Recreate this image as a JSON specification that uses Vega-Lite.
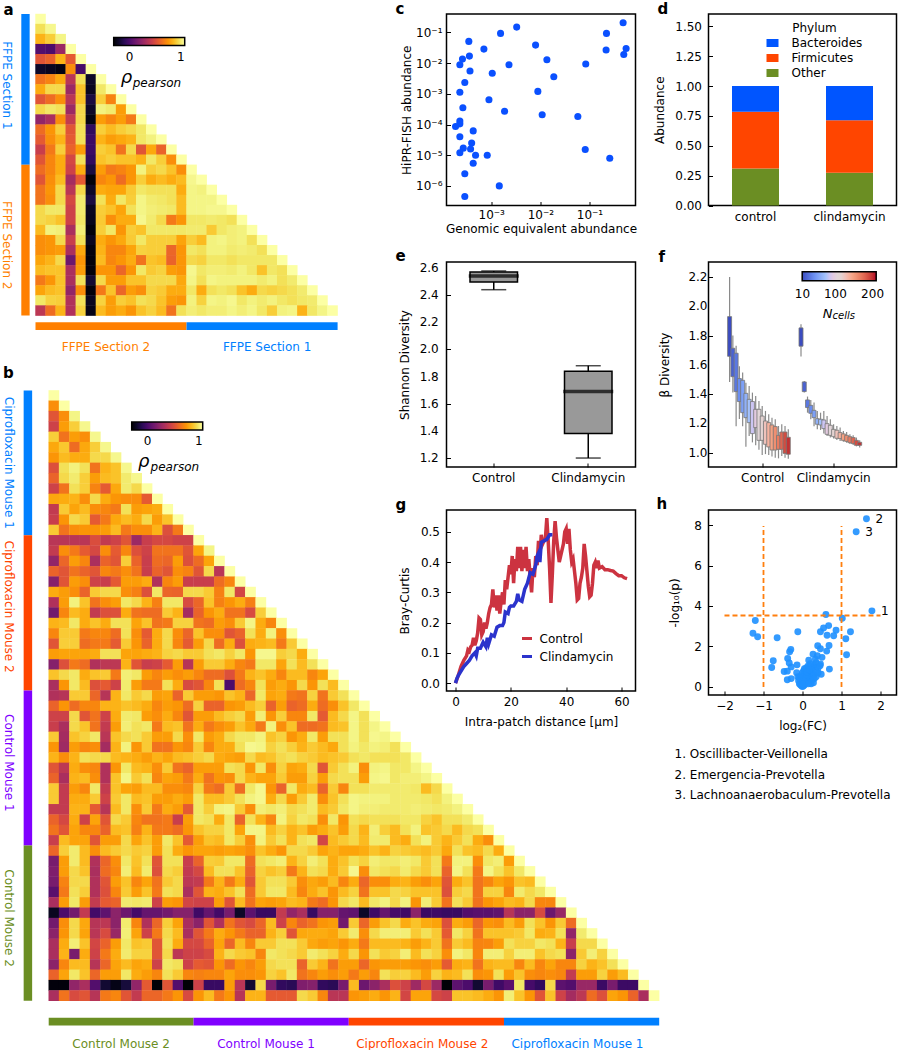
{
"$schema":"https://vega.github.io/schema/vega-lite/v6.json",
"padding":{"left":0.5,"top":1,"right":0,"bottom":0},
"background":"white",
"columns":3,
"bounds":"flush",
"spacing":{"row":0,"column":73},
"resolve":{"scale":{"fill":"independent","stroke":"independent","color":"independent"}},
"config":{"font":"DejaVu Sans","view":{"stroke":null},
"axis":{"grid":false,"domain":false,"tickSize":-4,"tickColor":"black","tickWidth":1,"labelFontSize":12,"titleFontSize":12,"labelColor":"black","titleColor":"black","titleFontWeight":"normal","labelPadding":11,"titlePadding":3,"labelOverlap":false},
"axisX":{"labelPadding":9.5},
"legend":{"labelFontSize":12,"titleFontSize":12,"titleFontWeight":"normal","labelColor":"black","titleColor":"black"},
"title":{"fontSize":15,"fontWeight":"bold","anchor":"start","frame":"group","color":"black"}},
"concat":[
{"width":337.4,"height":191.5,"title":{"text":"a","dx":-32,"offset":-4},
"resolve":{"scale":{"x":"independent","y":"independent","fill":"independent"}},
"layer":[
{"data":{"values":"r,c,v\n0,0,1\n1,0,.9\n1,1,.97\n2,0,.78\n2,1,.85\n2,2,.96\n3,0,.02\n3,1,0\n3,2,.25\n3,3,1\n4,0,.5\n4,1,.55\n4,2,.78\n4,3,.52\n4,4,1\n5,0,-.2\n5,1,-.22\n5,2,-.25\n5,3,.68\n5,4,-.02\n5,5,1\n6,0,.6\n6,1,.65\n6,2,.75\n6,3,.35\n6,4,.9\n6,5,-.2\n6,6,1\n7,0,.76\n7,1,.88\n7,2,.88\n7,3,.25\n7,4,.82\n7,5,-.22\n7,6,.92\n7,7,1\n8,0,.5\n8,1,.58\n8,2,.68\n8,3,.35\n8,4,.82\n8,5,-.15\n8,6,.85\n8,7,.65\n8,8,1\n9,0,.88\n9,1,.92\n9,2,.9\n9,3,.25\n9,4,.88\n9,5,-.2\n9,6,.95\n9,7,.93\n9,8,.72\n9,9,1\n10,0,.22\n10,1,.3\n10,2,.68\n10,3,.38\n10,4,.88\n10,5,-.25\n10,6,.72\n10,7,.66\n10,8,.72\n10,9,.62\n10,10,1\n11,0,.58\n11,1,.7\n11,2,.85\n11,3,.5\n11,4,.9\n11,5,-.08\n11,6,.85\n11,7,.8\n11,8,.85\n11,9,.88\n11,10,.92\n11,11,1\n12,0,.52\n12,1,.68\n12,2,.78\n12,3,.52\n12,4,.9\n12,5,-.05\n12,6,.78\n12,7,.72\n12,8,.75\n12,9,.78\n12,10,.92\n12,11,.95\n12,12,1\n13,0,.4\n13,1,.62\n13,2,.85\n13,3,.55\n13,4,.72\n13,5,-.05\n13,6,.85\n13,7,.82\n13,8,.6\n13,9,.88\n13,10,.5\n13,11,.75\n13,12,.55\n13,13,1\n14,0,.5\n14,1,.66\n14,2,.76\n14,3,.45\n14,4,.9\n14,5,-.08\n14,6,.82\n14,7,.85\n14,8,.82\n14,9,.82\n14,10,.78\n14,11,.92\n14,12,.85\n14,13,.68\n14,14,1\n15,0,.58\n15,1,.66\n15,2,.76\n15,3,.42\n15,4,.76\n15,5,-.15\n15,6,.72\n15,7,.62\n15,8,.65\n15,9,.7\n15,10,.95\n15,11,.85\n15,12,.88\n15,13,.82\n15,14,.68\n15,15,1\n16,0,.5\n16,1,.68\n16,2,.8\n16,3,.28\n16,4,.52\n16,5,-.27\n16,6,.66\n16,7,.7\n16,8,.58\n16,9,.7\n16,10,.85\n16,11,.76\n16,12,.8\n16,13,.76\n16,14,.8\n16,15,.97\n16,16,1\n17,0,.6\n17,1,.7\n17,2,.88\n17,3,.35\n17,4,.88\n17,5,-.2\n17,6,.76\n17,7,.74\n17,8,.74\n17,9,.84\n17,10,.92\n17,11,.9\n17,12,.9\n17,13,.9\n17,14,.76\n17,15,.96\n17,16,.95\n17,17,1\n18,0,.6\n18,1,.68\n18,2,.88\n18,3,.45\n18,4,.93\n18,5,-.15\n18,6,.9\n18,7,.76\n18,8,.92\n18,9,.85\n18,10,.96\n18,11,.93\n18,12,.92\n18,13,.9\n18,14,.8\n18,15,.96\n18,16,.96\n18,17,.96\n18,18,1\n19,0,.88\n19,1,.92\n19,2,.92\n19,3,.42\n19,4,.93\n19,5,-.22\n19,6,.85\n19,7,.82\n19,8,.74\n19,9,.9\n19,10,.96\n19,11,.94\n19,12,.93\n19,13,.92\n19,14,.8\n19,15,.96\n19,16,.96\n19,17,.97\n19,18,.97\n19,19,1\n20,0,.88\n20,1,.86\n20,2,.82\n20,3,.42\n20,4,.92\n20,5,-.23\n20,6,.84\n20,7,.68\n20,8,.76\n20,9,.76\n20,10,.97\n20,11,.93\n20,12,.88\n20,13,.62\n20,14,.7\n20,15,.92\n20,16,.92\n20,17,.93\n20,18,.92\n20,19,.9\n20,20,1\n21,0,.8\n21,1,.95\n21,2,.94\n21,3,.3\n21,4,.94\n21,5,-.27\n21,6,.85\n21,7,.92\n21,8,.7\n21,9,.85\n21,10,.82\n21,11,.92\n21,12,.92\n21,13,.92\n21,14,.92\n21,15,.93\n21,16,.93\n21,17,.84\n21,18,.92\n21,19,.94\n21,20,.95\n21,21,1\n22,0,.68\n22,1,.7\n22,2,.88\n22,3,.4\n22,4,.9\n22,5,-.22\n22,6,.76\n22,7,.7\n22,8,.75\n22,9,.84\n22,10,.92\n22,11,.85\n22,12,.85\n22,13,.85\n22,14,.74\n22,15,.85\n22,16,.8\n22,17,.95\n22,18,.96\n22,19,.94\n22,20,.95\n22,21,.9\n22,22,1\n23,0,.68\n23,1,.7\n23,2,.72\n23,3,.3\n23,4,.75\n23,5,-.26\n23,6,.78\n23,7,.66\n23,8,.66\n23,9,.74\n23,10,.86\n23,11,.85\n23,12,.85\n23,13,.56\n23,14,.7\n23,15,.92\n23,16,.9\n23,17,.95\n23,18,.95\n23,19,.93\n23,20,.94\n23,21,.93\n23,22,.9\n23,23,1\n24,0,.74\n24,1,.78\n24,2,.88\n24,3,.1\n24,4,.7\n24,5,-.27\n24,6,.8\n24,7,.66\n24,8,.7\n24,9,.76\n24,10,.6\n24,11,.82\n24,12,.8\n24,13,.55\n24,14,.7\n24,15,.88\n24,16,.86\n24,17,.92\n24,18,.92\n24,19,.9\n24,20,.92\n24,21,.92\n24,22,.92\n24,23,.92\n24,24,1\n25,0,.8\n25,1,.82\n25,2,.82\n25,3,.3\n25,4,.72\n25,5,-.27\n25,6,.7\n25,7,.7\n25,8,.56\n25,9,.7\n25,10,.92\n25,11,.84\n25,12,.86\n25,13,.72\n25,14,.7\n25,15,.97\n25,16,.92\n25,17,.94\n25,18,.94\n25,19,.93\n25,20,.95\n25,21,.92\n25,22,.82\n25,23,.92\n25,24,.9\n25,25,1\n26,0,.62\n26,1,.7\n26,2,.82\n26,3,.3\n26,4,.9\n26,5,-.18\n26,6,.88\n26,7,.72\n26,8,.72\n26,9,.82\n26,10,.82\n26,11,.88\n26,12,.88\n26,13,.88\n26,14,.75\n26,15,.96\n26,16,.9\n26,17,.96\n26,18,.95\n26,19,.95\n26,20,.95\n26,21,.95\n26,22,.93\n26,23,.95\n26,24,.9\n26,25,.93\n26,26,1\n27,0,.74\n27,1,.8\n27,2,.82\n27,3,.22\n27,4,.68\n27,5,-.27\n27,6,.62\n27,7,.82\n27,8,.56\n27,9,.72\n27,10,.68\n27,11,.86\n27,12,.84\n27,13,.76\n27,14,.76\n27,15,.92\n27,16,.76\n27,17,.9\n27,18,.92\n27,19,.9\n27,20,.82\n27,21,.76\n27,22,.88\n27,23,.86\n27,24,.88\n27,25,.9\n27,26,.93\n27,27,1\n28,0,.92\n28,1,.86\n28,2,.85\n28,3,.32\n28,4,.9\n28,5,-.22\n28,6,.86\n28,7,.72\n28,8,.85\n28,9,.82\n28,10,.9\n28,11,.88\n28,12,.82\n28,13,.72\n28,14,.7\n28,15,.95\n28,16,.86\n28,17,.96\n28,18,.95\n28,19,.97\n28,20,.92\n28,21,.95\n28,22,.93\n28,23,.95\n28,24,.92\n28,25,.9\n28,26,.92\n28,27,.93\n28,28,1\n29,0,.36\n29,1,.58\n29,2,.78\n29,3,.32\n29,4,.86\n29,5,-.24\n29,6,.8\n29,7,.72\n29,8,.76\n29,9,.7\n29,10,.82\n29,11,.86\n29,12,.8\n29,13,.6\n29,14,.9\n29,15,.94\n29,16,.92\n29,17,.94\n29,18,.94\n29,19,.96\n29,20,.94\n29,21,.96\n29,22,.92\n29,23,.85\n29,24,.95\n29,25,.96\n29,26,.78\n29,27,.92\n29,28,.96\n29,29,1","format":{"type":"csv","parse":{"r":"number","c":"number","v":"number"}}},
"mark":{"type":"rect","width":10.5,"height":10.5},
"encoding":{
"x":{"field":"c","type":"ordinal","axis":null,"scale":{"type":"band","paddingInner":0,"paddingOuter":0,"range":[0,302.1]}},
"y":{"field":"r","type":"ordinal","axis":null,"scale":{"type":"band","paddingInner":0,"paddingOuter":0,"range":[0,301.6]}},
"fill":{"field":"v","type":"quantitative","scale":{"scheme":"inferno","domain":[-0.29,1]},"legend":{"type":"gradient","orient":"none","legendX":78.2,"legendY":23.5,"direction":"horizontal","gradientLength":71,"gradientThickness":8,"values":[0,1],"title":null,"labelOffset":6,"format":"d","gradientStrokeColor":"black","gradientStrokeWidth":1.5}}}},
{"data":{"values":[{"g":"FFPE Section 1","x0":-1.41,"x1":-0.58,"y0":0,"y1":15},{"g":"FFPE Section 2","x0":-1.41,"x1":-0.58,"y0":15,"y1":30},{"g":"FFPE Section 2","x0":0,"x1":15,"y0":30.67,"y1":31.43},{"g":"FFPE Section 1","x0":15,"x1":30,"y0":30.67,"y1":31.43}]},
"mark":"rect",
"encoding":{
"x":{"field":"x0","type":"quantitative","axis":null,"scale":{"domain":[0,30],"range":[0,302.1],"nice":false,"zero":false}},"x2":{"field":"x1"},
"y":{"field":"y0","type":"quantitative","axis":null,"scale":{"domain":[0,30],"range":[0,301.6],"nice":false,"zero":false}},"y2":{"field":"y1"},
"fill":{"field":"g","type":"nominal","legend":null,"scale":{"domain":["FFPE Section 1","FFPE Section 2"],"range":["#0080FF","#FF7F00"]}}}},
{"data":{"values":[{"g":"FFPE Section 1","x":-2.83,"y":7.1},{"g":"FFPE Section 2","x":-2.83,"y":23}]},
"mark":{"type":"text","angle":90,"fontSize":12,"align":"center","baseline":"middle"},
"encoding":{
"x":{"field":"x","type":"quantitative","axis":null,"scale":{"domain":[0,30],"range":[0,302.1],"nice":false,"zero":false}},
"y":{"field":"y","type":"quantitative","axis":null,"scale":{"domain":[0,30],"range":[0,301.6],"nice":false,"zero":false}},
"text":{"field":"g"},
"fill":{"field":"g","type":"nominal","legend":null,"scale":{"domain":["FFPE Section 1","FFPE Section 2"],"range":["#0080FF","#FF7F00"]}}}},
{"data":{"values":[{"g":"FFPE Section 2","x":7,"y":33.1},{"g":"FFPE Section 1","x":23,"y":33.1}]},
"mark":{"type":"text","fontSize":12,"align":"center","baseline":"middle"},
"encoding":{
"x":{"field":"x","type":"quantitative","axis":null,"scale":{"domain":[0,30],"range":[0,302.1],"nice":false,"zero":false}},
"y":{"field":"y","type":"quantitative","axis":null,"scale":{"domain":[0,30],"range":[0,301.6],"nice":false,"zero":false}},
"text":{"field":"g"},
"fill":{"field":"g","type":"nominal","legend":null,"scale":{"domain":["FFPE Section 1","FFPE Section 2"],"range":["#0080FF","#FF7F00"]}}}},
{"data":{"values":[{"t":"ρ","x":8.46,"y":6.4}]},
"mark":{"type":"text","fontSize":18,"fontStyle":"italic","align":"left","baseline":"middle","color":"black"},
"encoding":{
"x":{"field":"x","type":"quantitative","axis":null,"scale":{"domain":[0,30],"range":[0,302.1],"nice":false,"zero":false}},
"y":{"field":"y","type":"quantitative","axis":null,"scale":{"domain":[0,30],"range":[0,301.6],"nice":false,"zero":false}},
"text":{"field":"t"}}},
{"data":{"values":[{"t":"pearson","x":9.65,"y":6.9}]},
"mark":{"type":"text","fontSize":12,"fontStyle":"italic","align":"left","baseline":"middle","color":"black"},
"encoding":{
"x":{"field":"x","type":"quantitative","axis":null,"scale":{"domain":[0,30],"range":[0,302.1],"nice":false,"zero":false}},
"y":{"field":"y","type":"quantitative","axis":null,"scale":{"domain":[0,30],"range":[0,301.6],"nice":false,"zero":false}},
"text":{"field":"t"}}}
]},
{"width":189,"height":191.5,"title":{"text":"c","dx":-51,"offset":-3},"view":{"stroke":"black","strokeWidth":1.5},
"data":{"values":[{"x":0.0033,"y":0.149},{"x":0.00155,"y":0.093},{"x":0.00035,"y":0.051},{"x":0.00071,"y":0.0286},{"x":0.008,"y":0.0386},{"x":0.00036,"y":0.0169},{"x":0.00026,"y":0.0135},{"x":0.00023,"y":0.0088},{"x":0.00037,"y":0.0055},{"x":0.0023,"y":0.0088},{"x":0.00105,"y":0.0047},{"x":0.00029,"y":0.00234},{"x":0.00023,"y":0.00113},{"x":0.0009,"y":0.00064},{"x":0.000265,"y":0.00035},{"x":0.00187,"y":0.00027},{"x":0.00023,"y":0.000129},{"x":0.00023,"y":0.000105},{"x":0.000188,"y":0.000086},{"x":0.00043,"y":0.000062},{"x":0.00023,"y":0.00004},{"x":0.0004,"y":0.000025},{"x":0.00027,"y":0.000017},{"x":0.00038,"y":0.000016},{"x":0.00023,"y":0.000012},{"x":0.00048,"y":0.00001},{"x":0.00083,"y":0.00001},{"x":0.00043,"y":0.0000055},{"x":0.00029,"y":0.0000025},{"x":0.00146,"y":0.000001},{"x":0.00029,"y":0.00000045},{"x":0.0136,"y":0.0129},{"x":0.0188,"y":0.0036},{"x":0.0089,"y":0.0012},{"x":0.0109,"y":0.000207},{"x":0.058,"y":0.000182},{"x":0.084,"y":0.0093},{"x":0.222,"y":0.093},{"x":0.218,"y":0.0266},{"x":0.484,"y":0.207},{"x":0.557,"y":0.03},{"x":0.499,"y":0.0192},{"x":0.082,"y":0.0000153},{"x":0.259,"y":0.000008}]},
"mark":{"type":"point","filled":true,"size":50,"opacity":1,"color":"#0a50ff"},
"encoding":{
"x":{"field":"x","type":"quantitative","scale":{"type":"log","domain":[0.000123,0.865],"nice":false},"axis":{"title":"Genomic equivalent abundance","values":[0.001,0.01,0.1],"labelPadding":8,"labelExpr":"'10⁻' + ['⁰','¹','²','³'][round(-log(datum.value)/LN10)]"}},
"y":{"field":"y","type":"quantitative","scale":{"type":"log","domain":[0.00000023,0.398],"nice":false},"axis":{"title":"HiPR-FISH abundance","values":[0.000001,0.00001,0.0001,0.001,0.01,0.1],"labelPadding":8.5,"labelExpr":"'10⁻' + ['⁰','¹','²','³','⁴','⁵','⁶'][round(-log(datum.value)/LN10)]","titlePadding":2}}}},
{"width":188,"height":191.5,"title":{"text":"d","dx":-51,"offset":-3},"view":{"stroke":"black","strokeWidth":1.5},
"data":{"values":[{"t":"control","p":"Other","a":0.31,"o":1},{"t":"control","p":"Firmicutes","a":0.475,"o":2},{"t":"control","p":"Bacteroides","a":0.215,"o":3},{"t":"clindamycin","p":"Other","a":0.275,"o":1},{"t":"clindamycin","p":"Firmicutes","a":0.44,"o":2},{"t":"clindamycin","p":"Bacteroides","a":0.285,"o":3}]},
"mark":"bar",
"encoding":{
"x":{"field":"t","type":"nominal","sort":["control","clindamycin"],"scale":{"paddingInner":0.5,"paddingOuter":0.25},"axis":{"title":null,"labelAngle":0}},
"y":{"field":"a","type":"quantitative","stack":"zero","scale":{"domain":[0,1.604],"nice":false},"axis":{"title":"Abundance","values":[0,0.25,0.5,0.75,1,1.25,1.5],"format":".2f","titlePadding":8}},
"order":{"field":"o"},
"color":{"field":"p","type":"nominal","scale":{"domain":["Bacteroides","Firmicutes","Other"],"range":["#0055FF","#FF4500","#6B8E23"]},"legend":{"orient":"none","legendX":58,"legendY":9,"title":"Phylum","titleAnchor":"middle","symbolType":"M-1,-0.67H1V0.67H-1Z","symbolSize":144,"symbolStrokeWidth":0,"rowPadding":3,"labelOffset":13,"titlePadding":2}}}},
{"width":337.4,"height":55.5,"data":{"values":[]},"mark":"point"},
{"width":189,"height":55.5,"data":{"values":[]},"mark":"point"},
{"width":188,"height":55.5,"data":{"values":[]},"mark":"point"},
{"width":337.4,"height":205,
"resolve":{"scale":{"x":"independent","y":"independent","fill":"independent"}},
"layer":[
{"data":{"values":"r,c,v\n0,0,1\n1,0,.68\n1,1,1\n2,0,.5\n2,1,.68\n2,2,.96\n3,0,.42\n3,1,.72\n3,2,.85\n3,3,.97\n4,0,.85\n4,1,.6\n4,2,.72\n4,3,.68\n4,4,.97\n5,0,.75\n5,1,.83\n5,2,.58\n5,3,.75\n5,4,.85\n5,5,.97\n6,0,.7\n6,1,.8\n6,2,.76\n6,3,.76\n6,4,.88\n6,5,.88\n6,6,.97\n7,0,.48\n7,1,.9\n7,2,.95\n7,3,.9\n7,4,.6\n7,5,.78\n7,6,.82\n7,7,.97\n8,0,.55\n8,1,.88\n8,2,.93\n8,3,.85\n8,4,.72\n8,5,.8\n8,6,.82\n8,7,.93\n8,8,.97\n9,0,.42\n9,1,.6\n9,2,.9\n9,3,.85\n9,4,.65\n9,5,.52\n9,6,.75\n9,7,.93\n9,8,.88\n9,9,1\n10,0,.75\n10,1,.76\n10,2,.78\n10,3,.68\n10,4,.88\n10,5,.76\n10,6,.7\n10,7,.68\n10,8,.68\n10,9,.52\n10,10,1\n11,0,.38\n11,1,.84\n11,2,.74\n11,3,.8\n11,4,.68\n11,5,.66\n11,6,.62\n11,7,.9\n11,8,.72\n11,9,.74\n11,10,.76\n11,11,1\n12,0,.4\n12,1,.7\n12,2,.88\n12,3,.84\n12,4,.52\n12,5,.62\n12,6,.75\n12,7,.8\n12,8,.76\n12,9,.88\n12,10,.72\n12,11,.82\n12,12,1\n13,0,.84\n13,1,.6\n13,2,.68\n13,3,.7\n13,4,.7\n13,5,.72\n13,6,.8\n13,7,.62\n13,8,.68\n13,9,.68\n13,10,.78\n13,11,.48\n13,12,.62\n13,13,1\n14,0,.35\n14,1,.35\n14,2,.35\n14,3,.35\n14,4,.47\n14,5,.38\n14,6,.42\n14,7,.5\n14,8,.25\n14,9,.4\n14,10,.45\n14,11,.45\n14,12,.42\n14,13,.42\n14,14,1\n15,0,.38\n15,1,.68\n15,2,.62\n15,3,.52\n15,4,.45\n15,5,.68\n15,6,.52\n15,7,.66\n15,8,.48\n15,9,.42\n15,10,.6\n15,11,.6\n15,12,.6\n15,13,.5\n15,14,.74\n15,15,.96\n16,0,.22\n16,1,.56\n16,2,.72\n16,3,.66\n16,4,.3\n16,5,.55\n16,6,.5\n16,7,.85\n16,8,.55\n16,9,.4\n16,10,.58\n16,11,.56\n16,12,.72\n16,13,.48\n16,14,.58\n16,15,.74\n16,16,1\n17,0,.55\n17,1,.5\n17,2,.6\n17,3,.55\n17,4,.5\n17,5,.66\n17,6,.62\n17,7,.68\n17,8,.6\n17,9,.4\n17,10,.55\n17,11,.5\n17,12,.68\n17,13,.65\n17,14,.5\n17,15,.88\n17,16,.35\n17,17,1\n18,0,.18\n18,1,.5\n18,2,.72\n18,3,.68\n18,4,.42\n18,5,.4\n18,6,.52\n18,7,.72\n18,8,.72\n18,9,.76\n18,10,.32\n18,11,.66\n18,12,.72\n18,13,.4\n18,14,.4\n18,15,.4\n18,16,.58\n18,17,.66\n18,18,1\n19,0,.76\n19,1,.72\n19,2,.68\n19,3,.55\n19,4,.84\n19,5,.88\n19,6,.88\n19,7,.68\n19,8,.64\n19,9,.48\n19,10,.92\n19,11,.56\n19,12,.55\n19,13,.88\n19,14,.88\n19,15,.84\n19,16,.64\n19,17,.92\n19,18,.44\n19,19,1\n20,0,.32\n20,1,.72\n20,2,.95\n20,3,.82\n20,4,.6\n20,5,.68\n20,6,.72\n20,7,.92\n20,8,.88\n20,9,.78\n20,10,.64\n20,11,.92\n20,12,.92\n20,13,.46\n20,14,.56\n20,15,.82\n20,16,.64\n20,17,.7\n20,18,.76\n20,19,.64\n20,20,1\n21,0,.12\n21,1,.66\n21,2,.8\n21,3,.76\n21,4,.38\n21,5,.48\n21,6,.48\n21,7,.76\n21,8,.6\n21,9,.58\n21,10,.58\n21,11,.84\n21,12,.78\n21,13,.28\n21,14,.55\n21,15,.7\n21,16,.76\n21,17,.6\n21,18,.6\n21,19,.46\n21,20,.85\n21,21,1\n22,0,.78\n22,1,.8\n22,2,.92\n22,3,.76\n22,4,.82\n22,5,.76\n22,6,.9\n22,7,.9\n22,8,.74\n22,9,.82\n22,10,.6\n22,11,.62\n22,12,.86\n22,13,.86\n22,14,.6\n22,15,.58\n22,16,.72\n22,17,.68\n22,18,.84\n22,19,.96\n22,20,.76\n22,21,.66\n22,22,1\n23,0,.66\n23,1,.84\n23,2,.84\n23,3,.62\n23,4,.66\n23,5,.66\n23,6,.58\n23,7,.9\n23,8,.68\n23,9,.52\n23,10,.76\n23,11,.88\n23,12,.68\n23,13,.56\n23,14,.82\n23,15,.68\n23,16,.68\n23,17,.5\n23,18,.55\n23,19,.9\n23,20,.76\n23,21,.95\n23,22,.68\n23,23,1\n24,0,.5\n24,1,.85\n24,2,.85\n24,3,.58\n24,4,.62\n24,5,.62\n24,6,.52\n24,7,.84\n24,8,.7\n24,9,.55\n24,10,.76\n24,11,.88\n24,12,.66\n24,13,.52\n24,14,.72\n24,15,.88\n24,16,.58\n24,17,.76\n24,18,.48\n24,19,.76\n24,20,.78\n24,21,.8\n24,22,.62\n24,23,.84\n24,24,1\n25,0,.72\n25,1,.74\n25,2,.74\n25,3,.74\n25,4,.76\n25,5,.9\n25,6,.9\n25,7,.74\n25,8,.74\n25,9,.76\n25,10,.78\n25,11,.86\n25,12,.88\n25,13,.84\n25,14,.84\n25,15,.9\n25,16,.92\n25,17,.86\n25,18,.92\n25,19,.7\n25,20,.97\n25,21,.97\n25,22,.85\n25,23,.88\n25,24,.76\n25,25,1\n26,0,.18\n26,1,.48\n26,2,.62\n26,3,.58\n26,4,.32\n26,5,.36\n26,6,.36\n26,7,.78\n26,8,.5\n26,9,.4\n26,10,.42\n26,11,.52\n26,12,.72\n26,13,.34\n26,14,.72\n26,15,.84\n26,16,.84\n26,17,.76\n26,18,.66\n26,19,.62\n26,20,.92\n26,21,.92\n26,22,.74\n26,23,.9\n26,24,.8\n26,25,.9\n26,26,1\n27,0,.82\n27,1,.88\n27,2,.92\n27,3,.76\n27,4,.82\n27,5,.84\n27,6,.62\n27,7,.94\n27,8,.92\n27,9,.72\n27,10,.66\n27,11,.72\n27,12,.68\n27,13,.72\n27,14,.66\n27,15,.58\n27,16,.58\n27,17,.48\n27,18,.62\n27,19,.78\n27,20,.82\n27,21,.76\n27,22,.66\n27,23,.8\n27,24,.8\n27,25,.66\n27,26,.74\n27,27,1\n28,0,.3\n28,1,.7\n28,2,.92\n28,3,.8\n28,4,.48\n28,5,.52\n28,6,.42\n28,7,.93\n28,8,.72\n28,9,.62\n28,10,.62\n28,11,.9\n28,12,.76\n28,13,.46\n28,14,.5\n28,15,.66\n28,16,.9\n28,17,0\n28,18,.58\n28,19,.66\n28,20,.9\n28,21,.72\n28,22,.76\n28,23,.7\n28,24,.88\n28,25,.7\n28,26,.9\n28,27,.8\n28,28,1\n29,0,.32\n29,1,.34\n29,2,.84\n29,3,.84\n29,4,.56\n29,5,.34\n29,6,.78\n29,7,.92\n29,8,.84\n29,9,.88\n29,10,.72\n29,11,.74\n29,12,.55\n29,13,.84\n29,14,.72\n29,15,.72\n29,16,.7\n29,17,.82\n29,18,.78\n29,19,.56\n29,20,.92\n29,21,.74\n29,22,.76\n29,23,.62\n29,24,.6\n29,25,.86\n29,26,.6\n29,27,.84\n29,28,.9\n29,29,1\n30,0,.55\n30,1,.7\n30,2,.58\n30,3,.66\n30,4,.66\n30,5,.78\n30,6,.78\n30,7,.82\n30,8,.8\n30,9,.76\n30,10,.66\n30,11,.72\n30,12,.7\n30,13,.58\n30,14,.86\n30,15,.55\n30,16,.55\n30,17,.7\n30,18,.72\n30,19,.8\n30,20,.85\n30,21,.55\n30,22,.72\n30,23,.55\n30,24,.58\n30,25,.76\n30,26,.58\n30,27,.68\n30,28,.82\n30,29,.92\n30,30,1\n31,0,.42\n31,1,.42\n31,2,.88\n31,3,.5\n31,4,.6\n31,5,.42\n31,6,.76\n31,7,.93\n31,8,.92\n31,9,.72\n31,10,.68\n31,11,.76\n31,12,.66\n31,13,.5\n31,14,.72\n31,15,.72\n31,16,.8\n31,17,.85\n31,18,.88\n31,19,.72\n31,20,.94\n31,21,.7\n31,22,.85\n31,23,.66\n31,24,.66\n31,25,.92\n31,26,.52\n31,27,.8\n31,28,.88\n31,29,.96\n31,30,.9\n31,31,1\n32,0,.4\n32,1,.3\n32,2,.88\n32,3,.82\n32,4,.6\n32,5,.38\n32,6,.72\n32,7,.94\n32,8,.9\n32,9,.92\n32,10,.62\n32,11,.8\n32,12,.82\n32,13,.6\n32,14,.76\n32,15,.62\n32,16,.68\n32,17,.72\n32,18,.82\n32,19,.75\n32,20,.62\n32,21,.95\n32,22,.68\n32,23,.82\n32,24,.58\n32,25,.58\n32,26,.6\n32,27,.8\n32,28,.82\n32,29,.96\n32,30,.9\n32,31,.96\n32,32,1\n33,0,.84\n33,1,.28\n33,2,.82\n33,3,.86\n33,4,.92\n33,5,.35\n33,6,.82\n33,7,.88\n33,8,.9\n33,9,.84\n33,10,.72\n33,11,.72\n33,12,.88\n33,13,.68\n33,14,.92\n33,15,.72\n33,16,.76\n33,17,.88\n33,18,.92\n33,19,.92\n33,20,.95\n33,21,.82\n33,22,.86\n33,23,.7\n33,24,.76\n33,25,.92\n33,26,.72\n33,27,.9\n33,28,.9\n33,29,.96\n33,30,.9\n33,31,.97\n33,32,.96\n33,33,1\n34,0,.7\n34,1,.26\n34,2,.72\n34,3,.66\n34,4,.68\n34,5,.28\n34,6,.78\n34,7,.95\n34,8,.7\n34,9,.84\n34,10,.6\n34,11,.6\n34,12,.7\n34,13,.66\n34,14,.84\n34,15,.66\n34,16,.76\n34,17,.76\n34,18,.9\n34,19,.97\n34,20,.96\n34,21,.86\n34,22,.9\n34,23,.85\n34,24,.78\n34,25,.84\n34,26,.8\n34,27,.75\n34,28,.9\n34,29,.95\n34,30,.92\n34,31,.95\n34,32,.94\n34,33,.9\n34,34,1\n35,0,.78\n35,1,.68\n35,2,.78\n35,3,.9\n35,4,.88\n35,5,.88\n35,6,.8\n35,7,.78\n35,8,.76\n35,9,.72\n35,10,.78\n35,11,.74\n35,12,.8\n35,13,.82\n35,14,.85\n35,15,.88\n35,16,.76\n35,17,.74\n35,18,.72\n35,19,.88\n35,20,.8\n35,21,.82\n35,22,.88\n35,23,.9\n35,24,.86\n35,25,.84\n35,26,.8\n35,27,.82\n35,28,.84\n35,29,.9\n35,30,.92\n35,31,.9\n35,32,.9\n35,33,.9\n35,34,.92\n35,35,1\n36,0,.5\n36,1,.36\n36,2,.76\n36,3,.68\n36,4,.66\n36,5,.32\n36,6,.7\n36,7,.92\n36,8,.8\n36,9,.78\n36,10,.68\n36,11,.84\n36,12,.6\n36,13,.55\n36,14,.72\n36,15,.72\n36,16,.72\n36,17,.9\n36,18,.88\n36,19,.7\n36,20,.92\n36,21,.68\n36,22,.86\n36,23,.74\n36,24,.76\n36,25,.88\n36,26,.5\n36,27,.84\n36,28,.9\n36,29,.95\n36,30,.68\n36,31,.95\n36,32,.96\n36,33,.92\n36,34,.92\n36,35,.96\n36,36,1\n37,0,.55\n37,1,.3\n37,2,.78\n37,3,.8\n37,4,.68\n37,5,.32\n37,6,.82\n37,7,.96\n37,8,.84\n37,9,.9\n37,10,.66\n37,11,.74\n37,12,.72\n37,13,.62\n37,14,.76\n37,15,.6\n37,16,.7\n37,17,.68\n37,18,.88\n37,19,.78\n37,20,.74\n37,21,.74\n37,22,.84\n37,23,.72\n37,24,.72\n37,25,.86\n37,26,.72\n37,27,.88\n37,28,.9\n37,29,.9\n37,30,.72\n37,31,.96\n37,32,.97\n37,33,.92\n37,34,.94\n37,35,.94\n37,36,.96\n37,37,1\n38,0,.84\n38,1,.38\n38,2,.72\n38,3,.66\n38,4,.92\n38,5,.38\n38,6,.82\n38,7,.74\n38,8,.72\n38,9,.8\n38,10,.8\n38,11,.68\n38,12,.68\n38,13,.66\n38,14,.86\n38,15,.62\n38,16,.58\n38,17,.84\n38,18,.58\n38,19,.92\n38,20,.97\n38,21,.7\n38,22,.55\n38,23,.92\n38,24,.76\n38,25,.8\n38,26,.55\n38,27,.84\n38,28,.66\n38,29,.9\n38,30,.9\n38,31,.93\n38,32,.93\n38,33,.93\n38,34,.93\n38,35,.92\n38,36,.8\n38,37,.88\n38,38,1\n39,0,.84\n39,1,.38\n39,2,.76\n39,3,.76\n39,4,.84\n39,5,.42\n39,6,.84\n39,7,.92\n39,8,.8\n39,9,.82\n39,10,.72\n39,11,.72\n39,12,.76\n39,13,.72\n39,14,.92\n39,15,.8\n39,16,.8\n39,17,.84\n39,18,.9\n39,19,.95\n39,20,.97\n39,21,.76\n39,22,.88\n39,23,.72\n39,24,.84\n39,25,.93\n39,26,.68\n39,27,.82\n39,28,.9\n39,29,.96\n39,30,.95\n39,31,.95\n39,32,.95\n39,33,.93\n39,34,.93\n39,35,.93\n39,36,.92\n39,37,.9\n39,38,.95\n39,39,1\n40,0,.38\n40,1,.38\n40,2,.78\n40,3,.78\n40,4,.52\n40,5,.34\n40,6,.8\n40,7,.92\n40,8,.68\n40,9,.84\n40,10,.62\n40,11,.76\n40,12,.72\n40,13,.52\n40,14,.92\n40,15,.85\n40,16,.95\n40,17,.96\n40,18,.84\n40,19,.68\n40,20,.94\n40,21,.92\n40,22,.94\n40,23,.88\n40,24,.9\n40,25,.93\n40,26,.8\n40,27,.84\n40,28,.92\n40,29,.96\n40,30,.94\n40,31,.94\n40,32,.93\n40,33,.93\n40,34,.93\n40,35,.94\n40,36,.93\n40,37,.92\n40,38,.93\n40,39,.95\n40,40,1\n41,0,.55\n41,1,.45\n41,2,.76\n41,3,.42\n41,4,.74\n41,5,.5\n41,6,.88\n41,7,.84\n41,8,.66\n41,9,.6\n41,10,.6\n41,11,.62\n41,12,.4\n41,13,.72\n41,14,.92\n41,15,.9\n41,16,.76\n41,17,.92\n41,18,.55\n41,19,.9\n41,20,.78\n41,21,.66\n41,22,.95\n41,23,.86\n41,24,.92\n41,25,.9\n41,26,.68\n41,27,.92\n41,28,.7\n41,29,.9\n41,30,.88\n41,31,.9\n41,32,.9\n41,33,.9\n41,34,.92\n41,35,.92\n41,36,.86\n41,37,.82\n41,38,.9\n41,39,.9\n41,40,.93\n41,41,1\n42,0,.6\n42,1,.5\n42,2,.74\n42,3,.66\n42,4,.66\n42,5,.55\n42,6,.8\n42,7,.82\n42,8,.64\n42,9,.78\n42,10,.62\n42,11,.62\n42,12,.58\n42,13,.7\n42,14,.82\n42,15,.86\n42,16,.86\n42,17,.92\n42,18,.74\n42,19,.96\n42,20,.96\n42,21,.8\n42,22,.86\n42,23,.78\n42,24,.82\n42,25,.72\n42,26,.76\n42,27,.82\n42,28,.72\n42,29,.88\n42,30,.78\n42,31,.94\n42,32,.85\n42,33,.8\n42,34,.9\n42,35,.95\n42,36,.82\n42,37,.84\n42,38,.88\n42,39,.8\n42,40,.88\n42,41,.9\n42,42,1\n43,0,.4\n43,1,.8\n43,2,.74\n43,3,.74\n43,4,.5\n43,5,.72\n43,6,.72\n43,7,.88\n43,8,.74\n43,9,.82\n43,10,.72\n43,11,.92\n43,12,.82\n43,13,.52\n43,14,.72\n43,15,.82\n43,16,.8\n43,17,.92\n43,18,.85\n43,19,.68\n43,20,.95\n43,21,.84\n43,22,.9\n43,23,.78\n43,24,.9\n43,25,.92\n43,26,.44\n43,27,.8\n43,28,.84\n43,29,.88\n43,30,.8\n43,31,.93\n43,32,.93\n43,33,.8\n43,34,.76\n43,35,.9\n43,36,.95\n43,37,.84\n43,38,.78\n43,39,.84\n43,40,.9\n43,41,.76\n43,42,.68\n43,43,1\n44,0,.56\n44,1,.85\n44,2,.93\n44,3,.8\n44,4,.68\n44,5,.8\n44,6,.84\n44,7,.88\n44,8,.84\n44,9,.86\n44,10,.72\n44,11,.9\n44,12,.76\n44,13,.7\n44,14,.74\n44,15,.74\n44,16,.72\n44,17,.74\n44,18,.72\n44,19,.68\n44,20,.82\n44,21,.76\n44,22,.7\n44,23,.88\n44,24,.88\n44,25,.84\n44,26,.74\n44,27,.78\n44,28,.74\n44,29,.74\n44,30,.76\n44,31,.82\n44,32,.78\n44,33,.86\n44,34,.84\n44,35,.82\n44,36,.8\n44,37,.84\n44,38,.75\n44,39,.9\n44,40,.82\n44,41,.8\n44,42,.88\n44,43,.76\n44,44,1\n45,0,.14\n45,1,.72\n45,2,.93\n45,3,.8\n45,4,.32\n45,5,.56\n45,6,.68\n45,7,.92\n45,8,.82\n45,9,.9\n45,10,.5\n45,11,.9\n45,12,.9\n45,13,.4\n45,14,.55\n45,15,.85\n45,16,.84\n45,17,.92\n45,18,.92\n45,19,.58\n45,20,.9\n45,21,.92\n45,22,.94\n45,23,.78\n45,24,.86\n45,25,.94\n45,26,.9\n45,27,.76\n45,28,.82\n45,29,.9\n45,30,.86\n45,31,.94\n45,32,.92\n45,33,.92\n45,34,.94\n45,35,.92\n45,36,.84\n45,37,.9\n45,38,.62\n45,39,.95\n45,40,.95\n45,41,.68\n45,42,.92\n45,43,.94\n45,44,.72\n45,45,1\n46,0,.16\n46,1,.72\n46,2,.88\n46,3,.82\n46,4,.3\n46,5,.58\n46,6,.66\n46,7,.94\n46,8,.8\n46,9,.93\n46,10,.48\n46,11,.88\n46,12,.85\n46,13,.38\n46,14,.45\n46,15,.8\n46,16,.9\n46,17,.9\n46,18,.82\n46,19,.55\n46,20,.86\n46,21,.82\n46,22,.85\n46,23,.62\n46,24,.78\n46,25,.9\n46,26,.88\n46,27,.76\n46,28,.84\n46,29,.97\n46,30,.68\n46,31,.92\n46,32,.9\n46,33,.88\n46,34,.93\n46,35,.88\n46,36,.84\n46,37,.9\n46,38,.55\n46,39,.96\n46,40,.9\n46,41,.62\n46,42,.96\n46,43,.9\n46,44,.82\n46,45,.92\n46,46,1\n47,0,.14\n47,1,.65\n47,2,.88\n47,3,.88\n47,4,.32\n47,5,.5\n47,6,.72\n47,7,.82\n47,8,.66\n47,9,.74\n47,10,.6\n47,11,.84\n47,12,.88\n47,13,.36\n47,14,.38\n47,15,.62\n47,16,.78\n47,17,.62\n47,18,.76\n47,19,.5\n47,20,.84\n47,21,.9\n47,22,.9\n47,23,.84\n47,24,.68\n47,25,.75\n47,26,.72\n47,27,.8\n47,28,.66\n47,29,.76\n47,30,.56\n47,31,.68\n47,32,.68\n47,33,.76\n47,34,.78\n47,35,.72\n47,36,.68\n47,37,.74\n47,38,.5\n47,39,.76\n47,40,.82\n47,41,.6\n47,42,.66\n47,43,.74\n47,44,.7\n47,45,.82\n47,46,.8\n47,47,1\n48,0,.04\n48,1,.62\n48,2,.9\n48,3,.85\n48,4,.32\n48,5,.48\n48,6,.66\n48,7,.84\n48,8,.72\n48,9,.82\n48,10,.62\n48,11,.9\n48,12,.88\n48,13,.3\n48,14,.5\n48,15,.78\n48,16,.76\n48,17,.82\n48,18,.9\n48,19,.58\n48,20,.84\n48,21,.92\n48,22,.92\n48,23,.8\n48,24,.66\n48,25,.76\n48,26,.82\n48,27,.7\n48,28,.8\n48,29,.86\n48,30,.6\n48,31,.82\n48,32,.82\n48,33,.88\n48,34,.86\n48,35,.82\n48,36,.82\n48,37,.82\n48,38,.48\n48,39,.85\n48,40,.88\n48,41,.6\n48,42,.86\n48,43,.86\n48,44,.66\n48,45,.93\n48,46,.88\n48,47,.92\n48,48,1\n49,0,.3\n49,1,.72\n49,2,.92\n49,3,.72\n49,4,.38\n49,5,.52\n49,6,.55\n49,7,.93\n49,8,.92\n49,9,.93\n49,10,.42\n49,11,.72\n49,12,.7\n49,13,.44\n49,14,.42\n49,15,.42\n49,16,.72\n49,17,.5\n49,18,.8\n49,19,.6\n49,20,.74\n49,21,.72\n49,22,.74\n49,23,.8\n49,24,.78\n49,25,.62\n49,26,.58\n49,27,.7\n49,28,.88\n49,29,.92\n49,30,.8\n49,31,.92\n49,32,.95\n49,33,.88\n49,34,.95\n49,35,.7\n49,36,.94\n49,37,.84\n49,38,.6\n49,39,.9\n49,40,.84\n49,41,.6\n49,42,.7\n49,43,.74\n49,44,.8\n49,45,.78\n49,46,.88\n49,47,.66\n49,48,.66\n49,49,1\n50,0,-.22\n50,1,0\n50,2,.12\n50,3,.38\n50,4,-.03\n50,5,.06\n50,6,.2\n50,7,.1\n50,8,-.02\n50,9,.08\n50,10,.08\n50,11,.12\n50,12,.18\n50,13,.18\n50,14,-.04\n50,15,.08\n50,16,-.03\n50,17,.14\n50,18,-.2\n50,19,.05\n50,20,-.06\n50,21,-.06\n50,22,.38\n50,23,.22\n50,24,.3\n50,25,-.06\n50,26,.18\n50,27,.18\n50,28,.08\n50,29,.06\n50,30,-.2\n50,31,-.04\n50,32,.08\n50,33,-.02\n50,34,-.04\n50,35,.2\n50,36,-.05\n50,37,-.04\n50,38,-.06\n50,39,-.06\n50,40,.02\n50,41,.04\n50,42,.04\n50,43,.06\n50,44,.34\n50,45,.2\n50,46,.2\n50,47,.46\n50,48,.1\n50,49,.24\n50,50,1\n51,0,.12\n51,1,.68\n51,2,.88\n51,3,.75\n51,4,.34\n51,5,.36\n51,6,.2\n51,7,.93\n51,8,.66\n51,9,.32\n51,10,.56\n51,11,.85\n51,12,.74\n51,13,.3\n51,14,.2\n51,15,.5\n51,16,.32\n51,17,.6\n51,18,.5\n51,19,.46\n51,20,.56\n51,21,.8\n51,22,.42\n51,23,.66\n51,24,.55\n51,25,.6\n51,26,.7\n51,27,.72\n51,28,.12\n51,29,.84\n51,30,.56\n51,31,.72\n51,32,.82\n51,33,.88\n51,34,.76\n51,35,.82\n51,36,.76\n51,37,.74\n51,38,.48\n51,39,.76\n51,40,.72\n51,41,.56\n51,42,.7\n51,43,.68\n51,44,.8\n51,45,.72\n51,46,.9\n51,47,.82\n51,48,.7\n51,49,.84\n51,50,.58\n51,51,1\n52,0,.2\n52,1,.7\n52,2,.88\n52,3,.74\n52,4,.35\n52,5,.46\n52,6,.24\n52,7,.94\n52,8,.74\n52,9,.42\n52,10,.62\n52,11,.88\n52,12,.8\n52,13,.3\n52,14,.5\n52,15,.62\n52,16,.76\n52,17,.7\n52,18,.62\n52,19,.55\n52,20,.55\n52,21,.78\n52,22,.85\n52,23,.5\n52,24,.75\n52,25,.76\n52,26,.76\n52,27,.74\n52,28,.84\n52,29,.93\n52,30,.68\n52,31,.88\n52,32,.94\n52,33,.94\n52,34,.94\n52,35,.84\n52,36,.9\n52,37,.84\n52,38,.52\n52,39,.92\n52,40,.86\n52,41,.6\n52,42,.82\n52,43,.82\n52,44,.82\n52,45,.84\n52,46,.92\n52,47,.76\n52,48,.78\n52,49,.9\n52,50,.22\n52,51,.93\n52,52,1\n53,0,.3\n53,1,.76\n53,2,.94\n53,3,.82\n53,4,.44\n53,5,.55\n53,6,.72\n53,7,.92\n53,8,.82\n53,9,.84\n53,10,.5\n53,11,.9\n53,12,.76\n53,13,.45\n53,14,.45\n53,15,.55\n53,16,.74\n53,17,.56\n53,18,.8\n53,19,.66\n53,20,.84\n53,21,.84\n53,22,.9\n53,23,.9\n53,24,.84\n53,25,.75\n53,26,.72\n53,27,.74\n53,28,.7\n53,29,.76\n53,30,.62\n53,31,.8\n53,32,.8\n53,33,.8\n53,34,.78\n53,35,.72\n53,36,.78\n53,37,.84\n53,38,.6\n53,39,.84\n53,40,.8\n53,41,.65\n53,42,.66\n53,43,.72\n53,44,.9\n53,45,.86\n53,46,.86\n53,47,.92\n53,48,.9\n53,49,.78\n53,50,.4\n53,51,.88\n53,52,.88\n53,53,1\n54,0,.3\n54,1,.78\n54,2,.14\n54,3,.76\n54,4,.42\n54,5,.62\n54,6,.76\n54,7,.93\n54,8,.86\n54,9,.86\n54,10,.5\n54,11,.88\n54,12,.36\n54,13,.42\n54,14,.42\n54,15,.46\n54,16,.78\n54,17,.88\n54,18,.84\n54,19,.82\n54,20,.66\n54,21,.92\n54,22,.9\n54,23,.88\n54,24,.84\n54,25,.93\n54,26,.9\n54,27,.86\n54,28,.76\n54,29,.88\n54,30,.7\n54,31,.9\n54,32,.84\n54,33,.86\n54,34,.94\n54,35,.8\n54,36,.9\n54,37,.86\n54,38,.68\n54,39,.95\n54,40,.92\n54,41,.66\n54,42,.94\n54,43,.94\n54,44,.86\n54,45,.94\n54,46,.94\n54,47,.82\n54,48,.88\n54,49,.9\n54,50,.2\n54,51,.84\n54,52,.94\n54,53,.86\n54,54,1\n55,0,.2\n55,1,.66\n55,2,.8\n55,3,.8\n55,4,.34\n55,5,.56\n55,6,.74\n55,7,.8\n55,8,.74\n55,9,.76\n55,10,.42\n55,11,.92\n55,12,.9\n55,13,.42\n55,14,.52\n55,15,.5\n55,16,.7\n55,17,.58\n55,18,.7\n55,19,.66\n55,20,.72\n55,21,.88\n55,22,.9\n55,23,.9\n55,24,.55\n55,25,.84\n55,26,.78\n55,27,.6\n55,28,.72\n55,29,.72\n55,30,.56\n55,31,.7\n55,32,.72\n55,33,.72\n55,34,.72\n55,35,.7\n55,36,.68\n55,37,.72\n55,38,.52\n55,39,.76\n55,40,.78\n55,41,.6\n55,42,.78\n55,43,.8\n55,44,.8\n55,45,.66\n55,46,.8\n55,47,.66\n55,48,.74\n55,49,.66\n55,50,.66\n55,51,.86\n55,52,.78\n55,53,.82\n55,54,.9\n55,55,1\n56,0,.55\n56,1,.74\n56,2,.92\n56,3,.82\n56,4,.56\n56,5,.72\n56,6,.72\n56,7,.92\n56,8,.76\n56,9,.72\n56,10,.66\n56,11,.9\n56,12,.84\n56,13,.66\n56,14,.64\n56,15,.66\n56,16,.66\n56,17,.74\n56,18,.68\n56,19,.68\n56,20,.7\n56,21,.86\n56,22,.82\n56,23,.92\n56,24,.6\n56,25,.66\n56,26,.72\n56,27,.68\n56,28,.72\n56,29,.62\n56,30,.72\n56,31,.66\n56,32,.9\n56,33,.85\n56,34,.86\n56,35,.8\n56,36,.72\n56,37,.86\n56,38,.78\n56,39,.8\n56,40,.9\n56,41,.68\n56,42,.7\n56,43,.9\n56,44,.72\n56,45,.82\n56,46,.68\n56,47,.66\n56,48,.68\n56,49,.66\n56,50,.38\n56,51,.72\n56,52,.72\n56,53,.86\n56,54,.72\n56,55,.8\n56,56,1\n57,0,-.27\n57,1,-.27\n57,2,.22\n57,3,.3\n57,4,.02\n57,5,-.18\n57,6,-.24\n57,7,-.16\n57,8,.22\n57,9,.52\n57,10,-.28\n57,11,.5\n57,12,.02\n57,13,-.28\n57,14,.42\n57,15,-.06\n57,16,-.06\n57,17,.72\n57,18,.35\n57,19,-.18\n57,20,.88\n57,21,.14\n57,22,-.08\n57,23,-.1\n57,24,.16\n57,25,.18\n57,26,-.08\n57,27,-.1\n57,28,.14\n57,29,.8\n57,30,.1\n57,31,.2\n57,32,.3\n57,33,.48\n57,34,.42\n57,35,.26\n57,36,.45\n57,37,.25\n57,38,-.28\n57,39,.05\n57,40,0\n57,41,-.18\n57,42,.14\n57,43,-.04\n57,44,.04\n57,45,.92\n57,46,-.02\n57,47,-.08\n57,48,.88\n57,49,.05\n57,50,.02\n57,51,.24\n57,52,.24\n57,53,-.05\n57,54,.14\n57,55,-.05\n57,56,-.05\n57,57,1\n58,0,.3\n58,1,.6\n58,2,.46\n58,3,.5\n58,4,.34\n58,5,.62\n58,6,.66\n58,7,.5\n58,8,.38\n58,9,.56\n58,10,.56\n58,11,.62\n58,12,.7\n58,13,.46\n58,14,.7\n58,15,.8\n58,16,.62\n58,17,.7\n58,18,.34\n58,19,.78\n58,20,.78\n58,21,.52\n58,22,.52\n58,23,.52\n58,24,.88\n58,25,.84\n58,26,.66\n58,27,.35\n58,28,.35\n58,29,.7\n58,30,.72\n58,31,.76\n58,32,.7\n58,33,.78\n58,34,.44\n58,35,.74\n58,36,.74\n58,37,.45\n58,38,.42\n58,39,.82\n58,40,.82\n58,41,.8\n58,42,.76\n58,43,.7\n58,44,.94\n58,45,.82\n58,46,.7\n58,47,.5\n58,48,.82\n58,49,.42\n58,50,.28\n58,51,.36\n58,52,.58\n58,53,.48\n58,54,.74\n58,55,.7\n58,56,.55\n58,57,.3\n58,58,1","format":{"type":"csv","parse":{"r":"number","c":"number","v":"number"}}},
"mark":{"type":"rect","width":10.75,"height":10.75},
"encoding":{
"x":{"field":"c","type":"ordinal","axis":null,"scale":{"type":"band","paddingInner":0,"paddingOuter":0,"range":[13.2,623.7]}},
"y":{"field":"r","type":"ordinal","axis":null,"scale":{"type":"band","paddingInner":0,"paddingOuter":0,"range":[128.4,738.8]}},
"fill":{"field":"v","type":"quantitative","scale":{"scheme":"inferno","domain":[-0.29,1]},"legend":{"type":"gradient","orient":"none","legendX":96.2,"legendY":160.1,"direction":"horizontal","gradientLength":71,"gradientThickness":8,"values":[0,1],"title":null,"labelOffset":6,"format":"d","gradientStrokeColor":"black","gradientStrokeWidth":1.5}}}},
{"data":{"values":[{"g":"Ciprofloxacin Mouse 1","x0":-2.42,"x1":-1.6,"y0":0,"y1":14},{"g":"Ciprofloxacin Mouse 2","x0":-2.42,"x1":-1.6,"y0":14,"y1":29},{"g":"Control Mouse 1","x0":-2.42,"x1":-1.6,"y0":29,"y1":44},{"g":"Control Mouse 2","x0":-2.42,"x1":-1.6,"y0":44,"y1":59},{"g":"Control Mouse 2","x0":0,"x1":14,"y0":60.65,"y1":61.38},{"g":"Control Mouse 1","x0":14,"x1":29,"y0":60.65,"y1":61.38},{"g":"Ciprofloxacin Mouse 2","x0":29,"x1":44,"y0":60.65,"y1":61.38},{"g":"Ciprofloxacin Mouse 1","x0":44,"x1":59,"y0":60.65,"y1":61.38}]},
"mark":"rect",
"encoding":{
"x":{"field":"x0","type":"quantitative","axis":null,"scale":{"domain":[0,59],"range":[13.2,623.7],"nice":false,"zero":false}},"x2":{"field":"x1"},
"y":{"field":"y0","type":"quantitative","axis":null,"scale":{"domain":[0,59],"range":[128.4,738.8],"nice":false,"zero":false}},"y2":{"field":"y1"},
"fill":{"field":"g","type":"nominal","legend":null,"scale":{"domain":["Ciprofloxacin Mouse 1","Ciprofloxacin Mouse 2","Control Mouse 1","Control Mouse 2"],"range":["#0080FF","#FF4500","#8000FF","#6B8E23"]}}}},
{"data":{"values":[{"g":"Ciprofloxacin Mouse 1","x":-3.87,"y":7},{"g":"Ciprofloxacin Mouse 2","x":-3.87,"y":20.9},{"g":"Control Mouse 1","x":-3.87,"y":36},{"g":"Control Mouse 2","x":-3.87,"y":51}]},
"mark":{"type":"text","angle":90,"fontSize":12,"align":"center","baseline":"middle"},
"encoding":{
"x":{"field":"x","type":"quantitative","axis":null,"scale":{"domain":[0,59],"range":[13.2,623.7],"nice":false,"zero":false}},
"y":{"field":"y","type":"quantitative","axis":null,"scale":{"domain":[0,59],"range":[128.4,738.8],"nice":false,"zero":false}},
"text":{"field":"g"},
"fill":{"field":"g","type":"nominal","legend":null,"scale":{"domain":["Ciprofloxacin Mouse 1","Ciprofloxacin Mouse 2","Control Mouse 1","Control Mouse 2"],"range":["#0080FF","#FF4500","#8000FF","#6B8E23"]}}}},
{"data":{"values":[{"g":"Control Mouse 2","x":7,"y":63.2},{"g":"Control Mouse 1","x":21,"y":63.2},{"g":"Ciprofloxacin Mouse 2","x":36.1,"y":63.2},{"g":"Ciprofloxacin Mouse 1","x":51.1,"y":63.2}]},
"mark":{"type":"text","fontSize":12,"align":"center","baseline":"middle"},
"encoding":{
"x":{"field":"x","type":"quantitative","axis":null,"scale":{"domain":[0,59],"range":[13.2,623.7],"nice":false,"zero":false}},
"y":{"field":"y","type":"quantitative","axis":null,"scale":{"domain":[0,59],"range":[128.4,738.8],"nice":false,"zero":false}},
"text":{"field":"g"},
"fill":{"field":"g","type":"nominal","legend":null,"scale":{"domain":["Ciprofloxacin Mouse 1","Ciprofloxacin Mouse 2","Control Mouse 1","Control Mouse 2"],"range":["#0080FF","#FF4500","#8000FF","#6B8E23"]}}}},
{"data":{"values":[{"t":"ρ","x":8.64,"y":6.95}]},
"mark":{"type":"text","fontSize":18,"fontStyle":"italic","align":"left","baseline":"middle","color":"black"},
"encoding":{
"x":{"field":"x","type":"quantitative","axis":null,"scale":{"domain":[0,59],"range":[13.2,623.7],"nice":false,"zero":false}},
"y":{"field":"y","type":"quantitative","axis":null,"scale":{"domain":[0,59],"range":[128.4,738.8],"nice":false,"zero":false}},
"text":{"field":"t"}}},
{"data":{"values":[{"t":"pearson","x":9.85,"y":7.45}]},
"mark":{"type":"text","fontSize":12,"fontStyle":"italic","align":"left","baseline":"middle","color":"black"},
"encoding":{
"x":{"field":"x","type":"quantitative","axis":null,"scale":{"domain":[0,59],"range":[13.2,623.7],"nice":false,"zero":false}},
"y":{"field":"y","type":"quantitative","axis":null,"scale":{"domain":[0,59],"range":[128.4,738.8],"nice":false,"zero":false}},
"text":{"field":"t"}}},
{"data":{"values":[{"t":"b","x":-4.42,"y":-1.67}]},
"mark":{"type":"text","fontSize":15,"fontWeight":"bold","align":"left","baseline":"middle","color":"black"},
"encoding":{
"x":{"field":"x","type":"quantitative","axis":null,"scale":{"domain":[0,59],"range":[13.2,623.7],"nice":false,"zero":false}},
"y":{"field":"y","type":"quantitative","axis":null,"scale":{"domain":[0,59],"range":[128.4,738.8],"nice":false,"zero":false}},
"text":{"field":"t"}}}
]},
{"width":189,"height":205,"title":{"text":"e","dx":-51,"offset":-2.3},"view":{"stroke":"black","strokeWidth":1.5},
"data":{"values":[{"t":"Control","low":2.44,"q1":2.497,"med":2.54,"q3":2.57,"high":2.578},{"t":"Clindamycin","low":1.2,"q1":1.381,"med":1.69,"q3":1.84,"high":1.88}]},
"encoding":{
"x":{"field":"t","type":"nominal","sort":["Control","Clindamycin"],"scale":{"paddingInner":0.5,"paddingOuter":0.25},"axis":{"title":null,"labelAngle":0}}},
"layer":[
{"mark":{"type":"rule","color":"black","strokeWidth":1.5},"encoding":{"y":{"field":"low","type":"quantitative","scale":{"domain":[1.134,2.644],"nice":false,"zero":false},"axis":{"title":"Shannon Diversity","values":[1.2,1.4,1.6,1.8,2,2.2,2.4,2.6],"labels":false,"titlePadding":35}},"y2":{"field":"high"}}},
{"mark":{"type":"tick","color":"black","thickness":1.5,"size":25},"encoding":{"y":{"field":"low","type":"quantitative"}}},
{"mark":{"type":"tick","color":"black","thickness":1.5,"size":25},"encoding":{"y":{"field":"high","type":"quantitative"}}},
{"mark":{"type":"bar","size":47.5,"fill":"#999999","stroke":"black","strokeWidth":1.5},"encoding":{"y":{"field":"q1","type":"quantitative"},"y2":{"field":"q3"}}},
{"mark":{"type":"tick","color":"black","thickness":3.5,"size":50},"encoding":{"y":{"field":"med","type":"quantitative"}}},
{"data":{"values":[{"t":"Control","low":1.2,"s":"1.2"},{"t":"Control","low":1.4,"s":"1.4"},{"t":"Control","low":1.6,"s":"1.6"},{"t":"Control","low":1.8,"s":"1.8"},{"t":"Control","low":2,"s":"2.0"},{"t":"Control","low":2.2,"s":"2.2"},{"t":"Control","low":2.4,"s":"2.4"},{"t":"Control","low":2.6,"s":"2.6"}]},
"mark":{"type":"text","fontSize":12,"align":"right","baseline":"middle","dx":-55,"color":"black"},
"encoding":{"y":{"field":"low","type":"quantitative"},"text":{"field":"s"}}}
]},
{"width":188,"height":205,"title":{"text":"f","dx":-50,"offset":-3},"view":{"stroke":"black","strokeWidth":1.5},
"data":{"values":[{"p":0,"n":10,"low":1.483,"q1":1.658,"q3":1.929,"high":2.2},{"p":1,"n":20,"low":1.41,"q1":1.519,"q3":1.713,"high":1.8},{"p":2,"n":30,"low":1.18,"q1":1.417,"q3":1.679,"high":1.73},{"p":3,"n":40,"low":1.23,"q1":1.349,"q3":1.506,"high":1.59},{"p":4,"n":50,"low":1.18,"q1":1.273,"q3":1.494,"high":1.547},{"p":5,"n":60,"low":1.04,"q1":1.239,"q3":1.405,"high":1.478},{"p":6,"n":70,"low":1.114,"q1":1.205,"q3":1.364,"high":1.455},{"p":7,"n":80,"low":1.07,"q1":1.13,"q3":1.349,"high":1.41},{"p":8,"n":90,"low":1.05,"q1":1.171,"q3":1.296,"high":1.387},{"p":9,"n":100,"low":1.02,"q1":1.084,"q3":1.296,"high":1.353},{"p":10,"n":110,"low":0.984,"q1":1.084,"q3":1.25,"high":1.319},{"p":11,"n":120,"low":0.99,"q1":1.057,"q3":1.216,"high":1.285},{"p":12,"n":130,"low":0.984,"q1":1.039,"q3":1.205,"high":1.262},{"p":13,"n":140,"low":0.973,"q1":1.018,"q3":1.189,"high":1.239},{"p":14,"n":150,"low":0.966,"q1":1.018,"q3":1.178,"high":1.228},{"p":15,"n":160,"low":0.961,"q1":1.023,"q3":1.118,"high":1.182},{"p":16,"n":170,"low":0.977,"q1":1.023,"q3":1.141,"high":1.194},{"p":17,"n":180,"low":0.966,"q1":0.995,"q3":1.141,"high":1.182},{"p":18,"n":190,"low":0.959,"q1":0.989,"q3":1.105,"high":1.159},{"p":21.9,"n":10,"low":1.656,"q1":1.727,"q3":1.852,"high":1.877},{"p":22.9,"n":20,"low":1.41,"q1":1.417,"q3":1.483,"high":1.49},{"p":23.9,"n":30,"low":1.273,"q1":1.308,"q3":1.36,"high":1.383},{"p":24.9,"n":40,"low":1.228,"q1":1.269,"q3":1.323,"high":1.36},{"p":25.9,"n":50,"low":1.18,"q1":1.239,"q3":1.289,"high":1.342},{"p":26.9,"n":60,"low":1.159,"q1":1.194,"q3":1.232,"high":1.285},{"p":27.9,"n":70,"low":1.155,"q1":1.189,"q3":1.228,"high":1.273},{"p":28.9,"n":80,"low":1.13,"q1":1.164,"q3":1.223,"high":1.285},{"p":29.9,"n":90,"low":1.114,"q1":1.125,"q3":1.198,"high":1.25},{"p":30.9,"n":100,"low":1.103,"q1":1.118,"q3":1.187,"high":1.228},{"p":31.9,"n":110,"low":1.096,"q1":1.109,"q3":1.159,"high":1.194},{"p":32.9,"n":120,"low":1.087,"q1":1.098,"q3":1.153,"high":1.182},{"p":33.9,"n":130,"low":1.08,"q1":1.096,"q3":1.137,"high":1.171},{"p":34.9,"n":140,"low":1.075,"q1":1.084,"q3":1.128,"high":1.148},{"p":35.9,"n":150,"low":1.068,"q1":1.077,"q3":1.118,"high":1.141},{"p":36.9,"n":160,"low":1.059,"q1":1.068,"q3":1.109,"high":1.125},{"p":37.9,"n":170,"low":1.052,"q1":1.062,"q3":1.103,"high":1.118},{"p":38.9,"n":180,"low":1.043,"q1":1.05,"q3":1.084,"high":1.103},{"p":39.9,"n":190,"low":1.036,"q1":1.05,"q3":1.071,"high":1.084}]},
"layer":[
{"mark":{"type":"rule","color":"#8a8a8a","strokeWidth":1.2},"encoding":{
"x":{"field":"p","type":"quantitative","scale":{"domain":[-4.94,49.66],"nice":false,"zero":false},"axis":{"title":null,"values":[10,31.75],"labelExpr":"datum.value<20?'Control':'Clindamycin'"}},
"y":{"field":"low","type":"quantitative","scale":{"domain":[0.902,2.302],"nice":false,"zero":false},"axis":{"title":"β Diversity","values":[1,1.2,1.4,1.6,1.8,2,2.2],"labels":false,"titlePadding":37}},"y2":{"field":"high"}}},
{"mark":{"type":"bar","size":4,"stroke":"#777777","strokeWidth":0.8},"encoding":{
"x":{"field":"p","type":"quantitative"},
"y":{"field":"q1","type":"quantitative"},"y2":{"field":"q3"},
"fill":{"field":"n","type":"quantitative","scale":{"domain":[10,42,73,105,137,168,200],"range":["#3b4cc0","#6f92f3","#aac7fd","#dddcdc","#f7a889","#e36a53","#b40426"]},"legend":{"orient":"none","legendX":93.7,"legendY":9.7,"direction":"horizontal","gradientLength":74,"gradientThickness":9,"values":[],"title":null,"gradientStrokeColor":"black","gradientStrokeWidth":1.5}}}},
{"data":{"values":[{"p":-4.94,"low":1,"s":"1.0"},{"p":-4.94,"low":1.2,"s":"1.2"},{"p":-4.94,"low":1.4,"s":"1.4"},{"p":-4.94,"low":1.6,"s":"1.6"},{"p":-4.94,"low":1.8,"s":"1.8"},{"p":-4.94,"low":2,"s":"2.0"},{"p":-4.94,"low":2.2,"s":"2.2"}]},"mark":{"type":"text","fontSize":12,"align":"right","baseline":"middle","dx":-6,"color":"black"},"encoding":{"x":{"field":"p","type":"quantitative"},"y":{"field":"low","type":"quantitative"},"text":{"field":"s"}}},
{"data":{"values":[{"t":"10","x":22.36,"y":2.086},{"t":"100","x":32.43,"y":2.086},{"t":"200","x":43.85,"y":2.086}]},"mark":{"type":"text","fontSize":12,"align":"center","baseline":"middle","color":"black"},"encoding":{"x":{"field":"x","type":"quantitative"},"y":{"field":"y","type":"quantitative"},"text":{"field":"t"}}},
{"data":{"values":[{"t":"N","x":28.6,"y":1.945}]},"mark":{"type":"text","fontSize":13,"fontStyle":"italic","align":"left","baseline":"middle","color":"black"},"encoding":{"x":{"field":"x","type":"quantitative"},"y":{"field":"y","type":"quantitative"},"text":{"field":"t"}}},
{"data":{"values":[{"t":"cells","x":31.6,"y":1.93}]},"mark":{"type":"text","fontSize":10,"fontStyle":"italic","align":"left","baseline":"middle","color":"black"},"encoding":{"x":{"field":"x","type":"quantitative"},"y":{"field":"y","type":"quantitative"},"text":{"field":"t"}}}
]},
{"width":337.4,"height":43,"data":{"values":[]},"mark":"point"},
{"width":189,"height":43,"data":{"values":[]},"mark":"point"},
{"width":188,"height":43,"data":{"values":[]},"mark":"point"},
{"width":337.4,"height":10,"data":{"values":[]},"mark":"point"},
{"width":189,"height":181,"title":{"text":"g","dx":-51,"offset":-3},"view":{"stroke":"black","strokeWidth":1.5},
"data":{"values":[{"s":"Control","x":0,"y":0},{"s":"Control","x":1,"y":0.025},{"s":"Control","x":2,"y":0.055},{"s":"Control","x":3,"y":0.075},{"s":"Control","x":4,"y":0.09},{"s":"Control","x":4.5,"y":0.11},{"s":"Control","x":5,"y":0.105},{"s":"Control","x":5.5,"y":0.12},{"s":"Control","x":6,"y":0.125},{"s":"Control","x":6.5,"y":0.15},{"s":"Control","x":7,"y":0.125},{"s":"Control","x":7.5,"y":0.14},{"s":"Control","x":8,"y":0.165},{"s":"Control","x":8.5,"y":0.215},{"s":"Control","x":9,"y":0.21},{"s":"Control","x":9.5,"y":0.16},{"s":"Control","x":10,"y":0.17},{"s":"Control","x":10.5,"y":0.2},{"s":"Control","x":11,"y":0.18},{"s":"Control","x":11.5,"y":0.2},{"s":"Control","x":12,"y":0.23},{"s":"Control","x":12.5,"y":0.25},{"s":"Control","x":13,"y":0.26},{"s":"Control","x":13.5,"y":0.31},{"s":"Control","x":14,"y":0.25},{"s":"Control","x":14.5,"y":0.29},{"s":"Control","x":15,"y":0.24},{"s":"Control","x":15.5,"y":0.29},{"s":"Control","x":16,"y":0.23},{"s":"Control","x":16.5,"y":0.27},{"s":"Control","x":17,"y":0.3},{"s":"Control","x":17.5,"y":0.26},{"s":"Control","x":18,"y":0.34},{"s":"Control","x":18.5,"y":0.31},{"s":"Control","x":19,"y":0.35},{"s":"Control","x":19.5,"y":0.39},{"s":"Control","x":20,"y":0.36},{"s":"Control","x":20.5,"y":0.42},{"s":"Control","x":21,"y":0.33},{"s":"Control","x":21.5,"y":0.41},{"s":"Control","x":22,"y":0.37},{"s":"Control","x":22.5,"y":0.45},{"s":"Control","x":23,"y":0.38},{"s":"Control","x":23.5,"y":0.45},{"s":"Control","x":24,"y":0.37},{"s":"Control","x":24.5,"y":0.44},{"s":"Control","x":25,"y":0.38},{"s":"Control","x":25.5,"y":0.45},{"s":"Control","x":26,"y":0.37},{"s":"Control","x":26.5,"y":0.41},{"s":"Control","x":27,"y":0.35},{"s":"Control","x":27.5,"y":0.3},{"s":"Control","x":28,"y":0.38},{"s":"Control","x":28.5,"y":0.35},{"s":"Control","x":29,"y":0.42},{"s":"Control","x":29.5,"y":0.39},{"s":"Control","x":30,"y":0.47},{"s":"Control","x":30.5,"y":0.42},{"s":"Control","x":31,"y":0.49},{"s":"Control","x":31.5,"y":0.46},{"s":"Control","x":32,"y":0.47},{"s":"Control","x":32.5,"y":0.48},{"s":"Control","x":33,"y":0.545},{"s":"Control","x":33.5,"y":0.47},{"s":"Control","x":34,"y":0.38},{"s":"Control","x":34.5,"y":0.265},{"s":"Control","x":35,"y":0.36},{"s":"Control","x":35.5,"y":0.47},{"s":"Control","x":36,"y":0.535},{"s":"Control","x":36.5,"y":0.48},{"s":"Control","x":37,"y":0.44},{"s":"Control","x":37.5,"y":0.4},{"s":"Control","x":38,"y":0.42},{"s":"Control","x":39,"y":0.46},{"s":"Control","x":39.5,"y":0.5},{"s":"Control","x":40,"y":0.51},{"s":"Control","x":40.5,"y":0.46},{"s":"Control","x":41,"y":0.51},{"s":"Control","x":41.5,"y":0.44},{"s":"Control","x":42,"y":0.4},{"s":"Control","x":42.5,"y":0.41},{"s":"Control","x":43,"y":0.37},{"s":"Control","x":43.5,"y":0.33},{"s":"Control","x":44,"y":0.275},{"s":"Control","x":44.5,"y":0.28},{"s":"Control","x":45,"y":0.33},{"s":"Control","x":45.5,"y":0.35},{"s":"Control","x":46,"y":0.38},{"s":"Control","x":46.5,"y":0.46},{"s":"Control","x":47,"y":0.42},{"s":"Control","x":47.5,"y":0.37},{"s":"Control","x":48,"y":0.32},{"s":"Control","x":48.5,"y":0.285},{"s":"Control","x":49,"y":0.29},{"s":"Control","x":49.5,"y":0.33},{"s":"Control","x":50,"y":0.39},{"s":"Control","x":50.5,"y":0.4},{"s":"Control","x":51,"y":0.38},{"s":"Control","x":51.5,"y":0.405},{"s":"Control","x":52,"y":0.38},{"s":"Control","x":53,"y":0.385},{"s":"Control","x":54,"y":0.375},{"s":"Control","x":55,"y":0.375},{"s":"Control","x":56,"y":0.372},{"s":"Control","x":57,"y":0.37},{"s":"Control","x":58,"y":0.362},{"s":"Control","x":59,"y":0.355},{"s":"Control","x":60,"y":0.355},{"s":"Control","x":61,"y":0.348},{"s":"Control","x":62,"y":0.345},{"s":"Clindamycin","x":0,"y":0},{"s":"Clindamycin","x":0.5,"y":0.015},{"s":"Clindamycin","x":1,"y":0.025},{"s":"Clindamycin","x":2,"y":0.04},{"s":"Clindamycin","x":3,"y":0.055},{"s":"Clindamycin","x":4,"y":0.065},{"s":"Clindamycin","x":5,"y":0.075},{"s":"Clindamycin","x":6,"y":0.09},{"s":"Clindamycin","x":7,"y":0.1},{"s":"Clindamycin","x":7.5,"y":0.09},{"s":"Clindamycin","x":8,"y":0.115},{"s":"Clindamycin","x":9,"y":0.115},{"s":"Clindamycin","x":10,"y":0.135},{"s":"Clindamycin","x":11,"y":0.12},{"s":"Clindamycin","x":11.5,"y":0.15},{"s":"Clindamycin","x":12,"y":0.13},{"s":"Clindamycin","x":13,"y":0.16},{"s":"Clindamycin","x":14,"y":0.155},{"s":"Clindamycin","x":15,"y":0.185},{"s":"Clindamycin","x":16,"y":0.19},{"s":"Clindamycin","x":17,"y":0.19},{"s":"Clindamycin","x":17.5,"y":0.2},{"s":"Clindamycin","x":18,"y":0.235},{"s":"Clindamycin","x":19,"y":0.23},{"s":"Clindamycin","x":19.5,"y":0.25},{"s":"Clindamycin","x":20,"y":0.255},{"s":"Clindamycin","x":21,"y":0.255},{"s":"Clindamycin","x":22,"y":0.27},{"s":"Clindamycin","x":22.5,"y":0.295},{"s":"Clindamycin","x":23,"y":0.275},{"s":"Clindamycin","x":24,"y":0.27},{"s":"Clindamycin","x":24.5,"y":0.29},{"s":"Clindamycin","x":25,"y":0.31},{"s":"Clindamycin","x":25.5,"y":0.32},{"s":"Clindamycin","x":26,"y":0.33},{"s":"Clindamycin","x":27,"y":0.365},{"s":"Clindamycin","x":28,"y":0.36},{"s":"Clindamycin","x":29,"y":0.39},{"s":"Clindamycin","x":29.5,"y":0.42},{"s":"Clindamycin","x":30,"y":0.43},{"s":"Clindamycin","x":30.5,"y":0.4},{"s":"Clindamycin","x":31,"y":0.465},{"s":"Clindamycin","x":32,"y":0.47},{"s":"Clindamycin","x":33,"y":0.475},{"s":"Clindamycin","x":34,"y":0.49},{"s":"Clindamycin","x":35,"y":0.49}]},
"mark":{"type":"line","strokeWidth":3.5},
"encoding":{
"x":{"field":"x","type":"quantitative","scale":{"domain":[-3.25,65.05],"nice":false,"zero":false},"axis":{"title":"Intra-patch distance [μm]","values":[0,20,40,60],"titlePadding":9}},
"y":{"field":"y","type":"quantitative","scale":{"domain":[-0.026,0.572],"nice":false,"zero":false},"axis":{"title":"Bray-Curtis","values":[0,0.1,0.2,0.3,0.4,0.5],"format":".1f","titlePadding":9}},
"color":{"field":"s","type":"nominal","scale":{"domain":["Control","Clindamycin"],"range":["#cc3340","#2b33cc"]},"legend":{"orient":"none","legendX":74,"legendY":122,"title":null,"symbolType":"stroke","symbolStrokeWidth":3,"symbolSize":100,"rowPadding":5,"labelOffset":6}}}},
{"width":188,"height":185,"title":{"text":"h","dx":-52,"offset":-2},"view":{"stroke":"black","strokeWidth":1.5},
"layer":[
{"data":{"values":[{"x":1.64,"y":8.31},{"x":1.376,"y":7.67},{"x":1.78,"y":3.76},{"x":0.6,"y":3.58},{"x":1.02,"y":3.39},{"x":-1.21,"y":3.28},{"x":-1.27,"y":2.65},{"x":-1.15,"y":2.48},{"x":-0.65,"y":2.43},{"x":-0.12,"y":2.73},{"x":0.46,"y":2.73},{"x":0.54,"y":2.91},{"x":0.67,"y":3.03},{"x":0.86,"y":2.8},{"x":1.23,"y":2.73},{"x":0.63,"y":2.55},{"x":0.8,"y":2.53},{"x":1.11,"y":2.38},{"x":0.39,"y":2.04},{"x":0.68,"y":2.05},{"x":0.46,"y":1.89},{"x":0.62,"y":1.77},{"x":1.13,"y":1.59},{"x":-0.3,"y":1.85},{"x":-0.33,"y":1.74},{"x":-0.38,"y":1.41},{"x":-0.34,"y":1.18},{"x":-0.75,"y":1.29},{"x":-0.79,"y":0.96},{"x":-0.29,"y":0.99},{"x":-0.14,"y":1.09},{"x":-0.47,"y":0.76},{"x":-0.39,"y":0.78},{"x":-0.39,"y":0.35},{"x":-0.29,"y":0.41},{"x":0.69,"y":0.88},{"x":0.27,"y":1.62},{"x":0.38,"y":1.54},{"x":0.5,"y":1.46},{"x":0.16,"y":1.32},{"x":0.33,"y":1.37},{"x":0.46,"y":1.13},{"x":0.48,"y":0.63},{"x":-0.15,"y":0.7},{"x":-0.12,"y":0.5},{"x":-0.1,"y":0.3},{"x":-0.08,"y":0.15},{"x":-0.05,"y":0.1},{"x":-0.02,"y":0.05},{"x":0,"y":0.02},{"x":0.02,"y":0.05},{"x":0.05,"y":0.1},{"x":0.08,"y":0.2},{"x":0.1,"y":0.3},{"x":0.12,"y":0.4},{"x":0.15,"y":0.5},{"x":0.18,"y":0.6},{"x":0.2,"y":0.7},{"x":0.22,"y":0.8},{"x":0.25,"y":0.9},{"x":0.28,"y":1},{"x":0.3,"y":1.1},{"x":0.35,"y":1.2},{"x":0.25,"y":0.5},{"x":0.3,"y":0.6},{"x":0.35,"y":0.8},{"x":0.4,"y":0.95},{"x":0.45,"y":1.05},{"x":0.2,"y":0.3},{"x":0.25,"y":0.35},{"x":0.3,"y":0.4},{"x":0.28,"y":0.2},{"x":0.22,"y":0.15},{"x":0.15,"y":0.15},{"x":-0.05,"y":0.35},{"x":-0.03,"y":0.55},{"x":0,"y":0.7},{"x":0.03,"y":0.8},{"x":0.05,"y":0.9},{"x":0.1,"y":0.95},{"x":0.15,"y":1.05},{"x":0.2,"y":1.15},{"x":0.07,"y":0.6},{"x":0.1,"y":0.5},{"x":0.02,"y":0.3},{"x":0,"y":0.15},{"x":-0.08,"y":0.45},{"x":0.12,"y":0.75},{"x":0.35,"y":0.5},{"x":0.4,"y":0.7},{"x":0.18,"y":0.85}]},
"mark":{"type":"point","filled":true,"size":48,"opacity":0.9,"color":"#1E90FF"},
"encoding":{
"x":{"field":"x","type":"quantitative","scale":{"domain":[-2.41,2.41],"nice":false,"zero":false},"axis":{"title":"log₂(FC)","values":[-2,-1,0,1,2],"titlePadding":9}},
"y":{"field":"y","type":"quantitative","scale":{"domain":[-0.4,8.745],"nice":false,"zero":false},"axis":{"title":"-log₁₀(p)","values":[0,2,4,6,8],"titlePadding":12}}}},
{"data":{"values":[{"x":-1,"x2":-1,"y":0,"y2":7.95},{"x":1,"x2":1,"y":0,"y2":7.95},{"x":-2,"x2":2,"y":3.53,"y2":3.53}]},
"mark":{"type":"rule","color":"#FF7F0E","strokeWidth":1.8,"strokeDash":[5,3]},
"encoding":{"x":{"field":"x","type":"quantitative"},"x2":{"field":"x2"},"y":{"field":"y","type":"quantitative"},"y2":{"field":"y2"}}},
{"data":{"values":[{"t":"1","x":1.78,"y":3.76},{"t":"2","x":1.64,"y":8.31},{"t":"3","x":1.376,"y":7.67}]},
"mark":{"type":"text","fontSize":12,"align":"left","baseline":"middle","dx":9,"color":"black"},
"encoding":{"x":{"field":"x","type":"quantitative"},"y":{"field":"y","type":"quantitative"},"text":{"field":"t"}}},
{"data":{"values":[{"t":"1. Oscillibacter-Veillonella","x":-3.28,"y":-3.31},{"t":"2. Emergencia-Prevotella","x":-3.28,"y":-4.34},{"t":"3. Lachnoanaerobaculum-Prevotella","x":-3.28,"y":-5.34}]},
"mark":{"type":"text","fontSize":12,"align":"left","baseline":"middle","color":"black"},
"encoding":{"x":{"field":"x","type":"quantitative"},"y":{"field":"y","type":"quantitative"},"text":{"field":"t"}}}
]}
]
}
